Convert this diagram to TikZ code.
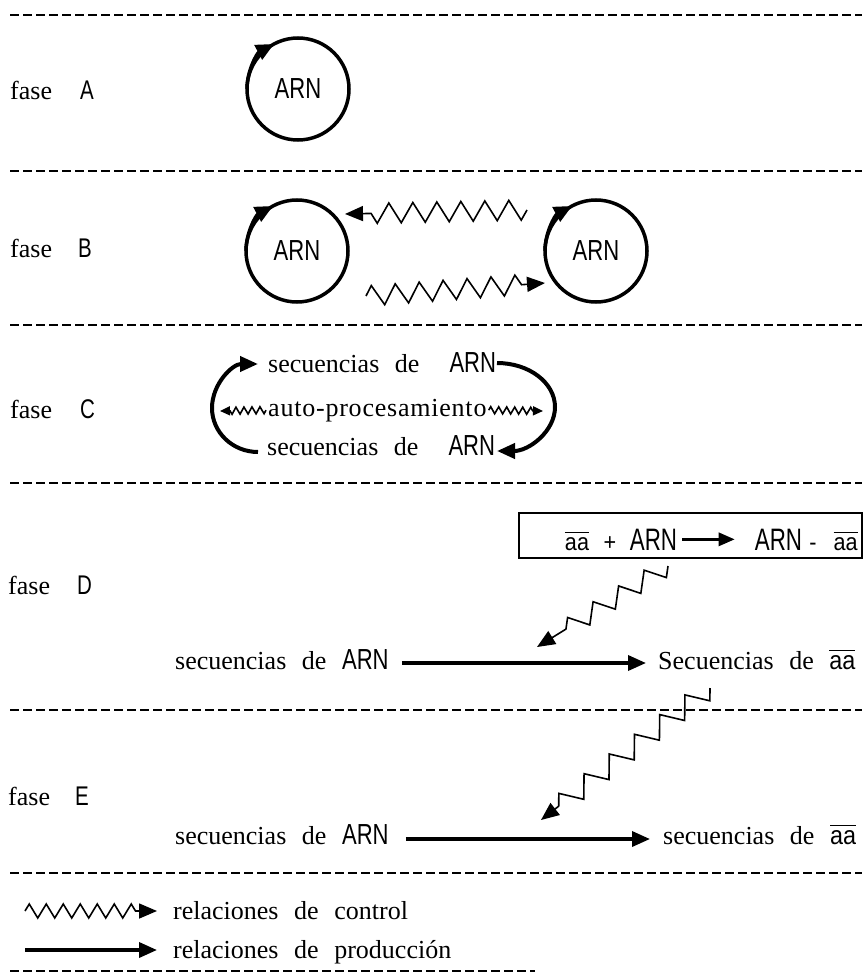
\documentclass[tikz,border=0pt]{standalone}
\usepackage{fontspec}
\setmainfont{Liberation Serif}[WordSpace=2.4]
\newfontfamily\arnfont{Liberation Sans}[FakeStretch=0.76]
\newfontfamily\arnwide{Liberation Sans}[FakeStretch=0.72]
\newfontfamily\aafont{Liberation Sans}[FakeStretch=0.9]
\usetikzlibrary{arrows.meta,decorations.pathmorphing}
\newcommand\sersize{\fontsize{26}{30}\selectfont}
\newcommand\arn{{\arnfont\fontsize{29}{32}\selectfont ARN}}
\newcommand\ovaa{$\overline{\mbox{\aafont\vphantom{A}aa}}$}
\begin{document}
\begin{tikzpicture}[x=1pt,y=1pt,
  dashline/.style={line width=1.3pt, dash pattern=on 9pt off 4pt},
  ring/.style={circle, draw, line width=3.5pt, minimum size=102pt, inner sep=0pt, font=\arnfont\fontsize{29}{32}\selectfont},
  ringtip/.style={line width=3.5pt, -{Triangle[length=18pt,width=16pt]}},
  lbl/.style={anchor=base west, inner sep=0pt, font=\sersize},
  letter/.style={anchor=base west, inner sep=0pt, font=\arnfont\fontsize{27}{30}\selectfont},
  txt/.style={anchor=base west, inner sep=0pt, font=\sersize},
  ctrl/.style={line width=1.6pt, -{Triangle[length=18pt,width=15pt]}, decorate, decoration={zigzag, segment length=24pt, amplitude=10pt, post=lineto, post length=20pt}},
  ctrlsmall/.style={line width=1.6pt, -{Triangle[length=10pt,width=9pt]}, decorate, decoration={zigzag, segment length=8pt, amplitude=3.5pt, post=lineto, post length=10pt}},
  carc/.style={line width=4pt, -{Triangle[length=18pt,width=15pt]}},
  prod/.style={line width=3.5pt, -{Triangle[length=18pt,width=15pt]}},
  boxarrow/.style={line width=3pt, -{Triangle[length=16pt,width=13pt]}},
  boxtxt/.style={anchor=base, inner sep=0pt, font=\aafont\fontsize{24}{28}\selectfont},
  boxarn/.style={anchor=base, inner sep=0pt, font=\arnwide\fontsize{31}{34}\selectfont},
]
\useasboundingbox (0,0) rectangle (864,-976);

% separators
\draw[dashline] (10,-15) -- (862,-15);
\draw[dashline] (10,-171) -- (862,-171);
\draw[dashline] (10,-325) -- (862,-325);
\draw[dashline] (10,-483) -- (862,-483);
\draw[dashline] (10,-710) -- (862,-710);
\draw[dashline] (10,-873) -- (862,-873);
\draw[dashline] (10,-971) -- (535,-971);

% phase labels
\node[lbl] (fA) at (10,-100) {fase};  \node[letter] (lA) at (80,-100) {A};
\node[lbl] (fB) at (10,-257) {fase};  \node[letter] (lB) at (78,-257) {B};
\node[lbl] (fC) at (10,-418) {fase};  \node[letter] (lC) at (80,-418) {C};
\node[lbl] (fD) at (8,-594) {fase};   \node[letter] (lD) at (77,-594) {D};
\node[lbl] (fE) at (8,-805) {fase};   \node[letter] (lE) at (75,-805) {E};

% phase A
\node[ring] (arnA) at (298,-89) {ARN};
\draw[ringtip] (arnA.center) ++(180:51) arc[start angle=180, end angle=118, radius=51];

% phase B
\node[ring] (arnB1) at (297,-251) {ARN};
\draw[ringtip] (arnB1.center) ++(180:51) arc[start angle=180, end angle=118, radius=51];
\node[ring] (arnB2) at (596,-251) {ARN};
\draw[ringtip] (arnB2.center) ++(180:51) arc[start angle=180, end angle=118, radius=51];
\coordinate (zb1s) at (527,-210);
\coordinate (zb1e) at (345,-214);
\draw[ctrl] (zb1s) -- (zb1e);
\coordinate (zb2s) at (366,-296);
\coordinate (zb2e) at (545,-283);
\draw[ctrl] (zb2s) -- (zb2e);

% phase C
\node[txt] (c1) at (268,-372) {secuencias de\hspace{30pt}\arn};
\node[txt] (c2) at (268,-416) {\addfontfeatures{LetterSpace=3}auto-procesamiento};
\node[txt] (c3) at (267,-455) {secuencias de\hspace{30pt}\arn};
\coordinate (cl) at (258,-452);
\draw[carc] (cl) arc[start angle=270, end angle=90, x radius=46, y radius=44];
\coordinate (cr) at (497,-363);
\draw[carc] (cr) arc[start angle=90, end angle=-90, x radius=58, y radius=44];
\coordinate (cza) at (220,-411);
\coordinate (czb) at (543,-411);
\draw[ctrlsmall] ([xshift=-2pt]c2.west) -- (cza);
\draw[ctrlsmall] ([xshift=2pt]c2.east) -- (czb);

% phase D
\node[draw, line width=1.3pt, minimum width=343pt, minimum height=45pt, inner sep=0pt] (bx) at (690.5,-535.5) {};
\node[boxtxt] (bx1) at (577,-550) {\ovaa};
\node[boxtxt] (bplus) at (610,-550) {+};
\node[boxarn] (barn1) at (653.5,-550) {ARN};
\node[boxarn] (barn2) at (778.5,-550) {ARN};
\node[boxtxt] (bminus) at (813,-550) {-};
\node[boxtxt] (bx2) at (845.5,-550) {\ovaa};
\draw[boxarrow] ([xshift=5pt]barn1.east) -- ([xshift=-20pt]barn2.west);

\coordinate (zd1) at (668,-566);
\coordinate (zd2) at (537,-647);
\draw[ctrl, decoration={segment length=30pt, amplitude=9pt}] (zd1) -- (zd2);

\node[txt] (sD) at (175,-669) {secuencias de \arn};
\node[txt] (tD) at (658,-669) {Secuencias de \ovaa};
\draw[prod] ([xshift=13pt,yshift=6pt]sD.base east) -- ([xshift=-12pt,yshift=6pt]tD.base west);

% phase E
\coordinate (ze1) at (710,-688);
\coordinate (ze2) at (541,-820);
\draw[ctrl, decoration={segment length=32pt, amplitude=10pt}] (ze1) -- (ze2);

\node[txt] (sE) at (175,-844) {secuencias de \arn};
\node[txt] (tE) at (663,-844) {secuencias de \ovaa};
\draw[prod] ([xshift=17pt,yshift=5pt]sE.base east) -- ([xshift=-13pt,yshift=5pt]tE.base west);

% legend
\node[txt] (leg1) at (173,-919) {relaciones de control};
\node[txt] (leg2) at (173,-958) {relaciones de producción};
\coordinate (lc1) at (25,-911);
\coordinate (lp1) at (25,-950);
\draw[ctrl, decoration={segment length=17pt, amplitude=7pt, post length=18pt}] (lc1) -- ([xshift=-16pt]leg1.west |- lc1);
\draw[prod] (lp1) -- ([xshift=-16pt]leg2.west |- lp1);
\end{tikzpicture}
\end{document}
